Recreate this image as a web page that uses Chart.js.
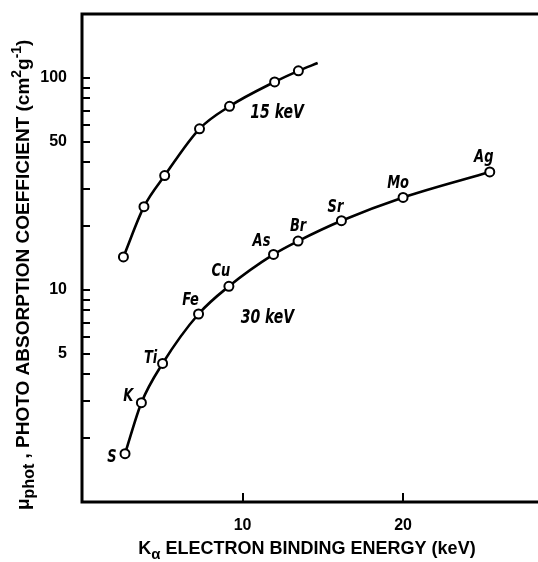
<!DOCTYPE html>
<html><head><meta charset="utf-8">
<script src="https://cdn.jsdelivr.net/npm/chart.js@4.4.0/dist/chart.umd.min.js"></script>
<style>html,body{margin:0;padding:0;background:#fff;overflow:hidden}#wrap{position:relative;width:538px;height:562px}</style>
</head><body><div id="wrap"><canvas id="c" width="538" height="562"></canvas></div>
<script>
// ---- data ----
const elements = ['S', 'K', 'Ti', 'Fe', 'Cu', 'As', 'Br', 'Sr', 'Mo', 'Ag'];
const energy30 = [2.68, 3.70, 5.02, 7.26, 9.15, 11.93, 13.46, 16.16, 20.0, 25.4];
const mu30 = [1.69, 2.94, 4.50, 7.7, 10.4, 14.7, 17.0, 21.2, 27.3, 36.0];
const energy15 = [2.58, 3.86, 5.15, 7.32, 9.19, 12.0, 13.48, 14.68];
const mu15 = [14.3, 24.7, 34.6, 57.5, 73.4, 95.7, 107.9, 117.4];
const markedPoints15 = 7; // last point of the 15 keV curve is the unmarked line end
const seriesNames = ['15 keV', '30 keV'];
const xTicks = [10, 20];
const yTicks = [2, 3, 4, 5, 6, 7, 8, 9, 10, 20, 30, 40, 50, 60, 70, 80, 90, 100];
const yTickLabels = [5, 10, 50, 100];
const xTitle = ['K', 'α', ' ELECTRON BINDING ENERGY (keV)'];
const yTitle = ['μ', 'phot', ' , PHOTO ABSORPTION COEFFICIENT (cm', '2', 'g', '-1', ')'];

// ---- styling (positions / sizes kept separate from data) ----
const LBL_FONT = '"DejaVu Sans Condensed", "Liberation Sans", sans-serif';
const AX_FONT = '"Liberation Sans", Arial, sans-serif';
const elemOffsets = [[-13, 4], [-13, -6], [-12, -5], [-8, -13], [-8, -15], [-12, -13], [0, -14], [-6, -13], [-5, -14], [-6, -14]];
const seriesLabelAnchors = [[12.15, 68.5], [11.55, 7.4]];

function drawSqueezed(ctx, text, x, y, sx) {
  ctx.save();
  ctx.translate(x, y);
  ctx.scale(sx, 1);
  ctx.fillText(text, 0, 0);
  ctx.restore();
}

const frame = {
  id: 'frame',
  afterDraw(chart) {
    const ctx = chart.ctx, a = chart.chartArea;
    const xs = chart.scales.x, ys = chart.scales.y;
    ctx.save();
    ctx.strokeStyle = '#000';
    ctx.lineWidth = 3;
    ctx.lineCap = 'square';
    ctx.beginPath();
    ctx.moveTo(a.right + 5, a.top);
    ctx.lineTo(a.left, a.top);
    ctx.lineTo(a.left, a.bottom);
    ctx.lineTo(a.right + 5, a.bottom);
    ctx.stroke();
    ctx.lineWidth = 2;
    ctx.lineCap = 'butt';
    ctx.beginPath();
    ys.ticks.forEach(t => {
      const p = Math.round(ys.getPixelForValue(t.value));
      ctx.moveTo(a.left, p); ctx.lineTo(a.left + 8, p);
    });
    xs.ticks.forEach(t => {
      const p = Math.round(xs.getPixelForValue(t.value));
      ctx.moveTo(p, a.bottom); ctx.lineTo(p, a.bottom - 9);
    });
    ctx.stroke();

    // point labels
    ctx.fillStyle = '#000';
    ctx.textAlign = 'center';
    ctx.textBaseline = 'middle';
    ctx.font = 'italic bold 17px ' + LBL_FONT;
    elements.forEach((el, i) => {
      const px = xs.getPixelForValue(energy30[i]);
      const py = ys.getPixelForValue(mu30[i]);
      drawSqueezed(ctx, el, px + elemOffsets[i][0], py + elemOffsets[i][1], 0.85);
    });
    ctx.font = 'italic bold 20px ' + LBL_FONT;
    seriesNames.forEach((s, i) => {
      drawSqueezed(ctx, s, xs.getPixelForValue(seriesLabelAnchors[i][0]), ys.getPixelForValue(seriesLabelAnchors[i][1]), 0.78);
    });

    // axis titles
    ctx.textAlign = 'left';
    ctx.textBaseline = 'alphabetic';
    const xsegs = [
      {t: xTitle[0], f: 'bold 18px ' + AX_FONT, dy: 0},
      {t: xTitle[1], f: 'bold 15px ' + AX_FONT, dy: 5},
      {t: xTitle[2], f: 'bold 18px ' + AX_FONT, dy: 0}
    ];
    let w = 0;
    xsegs.forEach(s => { ctx.font = s.f; s.w = ctx.measureText(s.t).width; w += s.w; });
    let x0 = 307 - w / 2;
    xsegs.forEach(s => { ctx.font = s.f; ctx.fillText(s.t, x0, 554 + s.dy); x0 += s.w; });

    const ysegs = [
      {t: yTitle[0], f: 'bold 19px ' + AX_FONT, dy: 0},
      {t: yTitle[1], f: 'bold 16px ' + AX_FONT, dy: 5},
      {t: yTitle[2], f: 'bold 19px ' + AX_FONT, dy: 0},
      {t: yTitle[3], f: 'bold 14px ' + AX_FONT, dy: -8},
      {t: yTitle[4], f: 'bold 19px ' + AX_FONT, dy: 0},
      {t: yTitle[5], f: 'bold 14px ' + AX_FONT, dy: -8},
      {t: yTitle[6], f: 'bold 19px ' + AX_FONT, dy: 0}
    ];
    ctx.translate(29, 510);
    ctx.rotate(-Math.PI / 2);
    let y0 = 0;
    ysegs.forEach(s => { ctx.font = s.f; ctx.fillText(s.t, y0, s.dy); y0 += ctx.measureText(s.t).width; });
    ctx.restore();
  }
};

const pointStyle = {
  borderColor: '#000', borderWidth: 2.6, pointBackgroundColor: '#fff',
  pointBorderColor: '#000', pointBorderWidth: 2, pointHoverRadius: 4.5,
  cubicInterpolationMode: 'monotone', fill: false
};

new Chart(document.getElementById('c'), {
  type: 'line',
  data: {
    datasets: [
      Object.assign({
        label: seriesNames[0],
        data: energy15.map((x, i) => ({x, y: mu15[i]})),
        pointRadius: energy15.map((_, i) => i < markedPoints15 ? 4.5 : 0)
      }, pointStyle),
      Object.assign({
        label: seriesNames[1],
        data: energy30.map((x, i) => ({x, y: mu30[i]})),
        pointRadius: 4.5
      }, pointStyle)
    ]
  },
  options: {
    responsive: false, animation: false, devicePixelRatio: 1,
    layout: {padding: {top: 14, left: 0, right: 0, bottom: 0}},
    plugins: {legend: {display: false}, tooltip: {enabled: false}},
    scales: {
      x: {
        type: 'linear', min: 0, max: 28,
        afterBuildTicks: s => { s.ticks = xTicks.map(v => ({value: v})); },
        afterFit: s => { s.height = 60; s.paddingLeft = 0; s.paddingRight = 0; },
        grid: {display: false, drawTicks: false}, border: {display: false},
        ticks: {color: '#000', padding: 14, maxRotation: 0, autoSkip: false,
                font: {family: AX_FONT, weight: 'bold', size: 16}}
      },
      y: {
        type: 'logarithmic', min: 1, max: 200,
        afterBuildTicks: s => { s.ticks = yTicks.map(v => ({value: v})); },
        afterFit: s => { s.width = 82; s.paddingTop = 0; s.paddingBottom = 0; },
        grid: {display: false, drawTicks: false}, border: {display: false},
        ticks: {color: '#000', padding: 15, autoSkip: false,
                font: {family: AX_FONT, weight: 'bold', size: 16},
                callback: v => yTickLabels.includes(v) ? String(v) : ''}
      }
    }
  },
  plugins: [frame]
});
</script></body></html>
